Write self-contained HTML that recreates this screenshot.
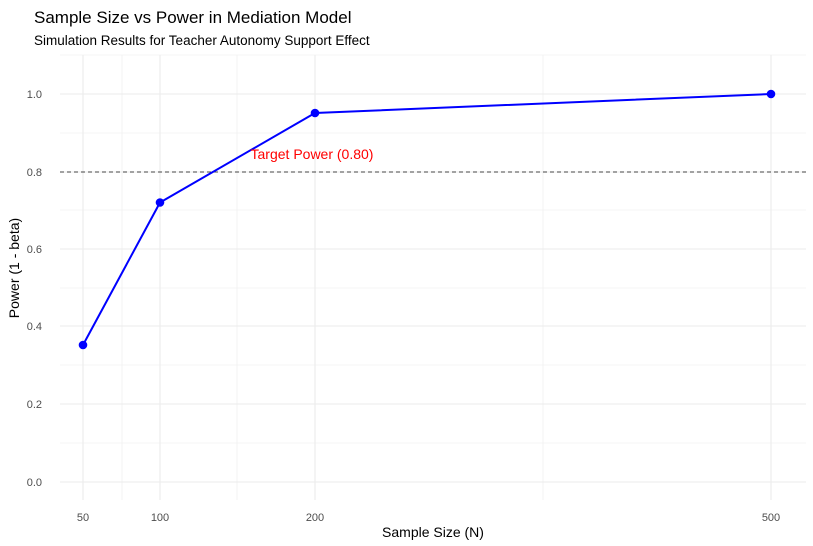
<!DOCTYPE html>
<html><head><meta charset="utf-8"><style>
body{margin:0;background:#fff;}
svg{display:block;font-family:"Liberation Sans",Arial,sans-serif;}
</style></head><body>
<svg width="813" height="546" viewBox="0 0 813 546" xmlns="http://www.w3.org/2000/svg">
<rect width="813" height="546" fill="#fff"/>
<g stroke="#ebebeb" stroke-width="0.6">
<line x1="60" x2="806" y1="443" y2="443"/>
<line x1="60" x2="806" y1="365" y2="365"/>
<line x1="60" x2="806" y1="288" y2="288"/>
<line x1="60" x2="806" y1="210" y2="210"/>
<line x1="60" x2="806" y1="133" y2="133"/>
<line x1="60" x2="806" y1="55" y2="55"/>
<line x1="122" x2="122" y1="55" y2="500"/>
<line x1="237" x2="237" y1="55" y2="500"/>
<line x1="543" x2="543" y1="55" y2="500"/>
</g>
<g stroke="#ebebeb" stroke-width="1.1">
<line x1="60" x2="806" y1="482" y2="482"/>
<line x1="60" x2="806" y1="404" y2="404"/>
<line x1="60" x2="806" y1="326" y2="326"/>
<line x1="60" x2="806" y1="249" y2="249"/>
<line x1="60" x2="806" y1="172" y2="172"/>
<line x1="60" x2="806" y1="94" y2="94"/>
<line x1="83" x2="83" y1="55" y2="500"/>
<line x1="160" x2="160" y1="55" y2="500"/>
<line x1="315" x2="315" y1="55" y2="500"/>
<line x1="771" x2="771" y1="55" y2="500"/>
</g>
<line x1="60" x2="806" y1="172" y2="172" stroke="#444" stroke-width="1" stroke-dasharray="4,3"/>
<polyline points="83,345 160,202.5 315,113 771,94" fill="none" stroke="#0000ff" stroke-width="2"/>
<g fill="#0000ff">
<circle cx="83" cy="345" r="4.3"/><circle cx="160" cy="202.5" r="4.3"/>
<circle cx="315" cy="113" r="4.3"/><circle cx="771" cy="94" r="4.3"/>
</g>
<text x="312" y="159" fill="#ff0000" font-size="14" text-anchor="middle">Target Power (0.80)</text>
<g fill="#4d4d4d" font-size="11" text-anchor="end">
<text x="42" y="486">0.0</text><text x="42" y="408">0.2</text><text x="42" y="330">0.4</text>
<text x="42" y="253">0.6</text><text x="42" y="176">0.8</text><text x="42" y="98">1.0</text>
</g>
<g fill="#4d4d4d" font-size="11" text-anchor="middle">
<text x="83" y="521">50</text><text x="160" y="521">100</text><text x="315" y="521">200</text><text x="771" y="521">500</text>
</g>
<text x="433" y="537" font-size="14" text-anchor="middle" fill="#000">Sample Size (N)</text>
<text transform="translate(19,268) rotate(-90)" font-size="14" text-anchor="middle" fill="#000">Power (1 - beta)</text>
<text x="34" y="23" font-size="17" fill="#000">Sample Size vs Power in Mediation Model</text>
<text x="34" y="45" font-size="13.5" fill="#000">Simulation Results for Teacher Autonomy Support Effect</text>
</svg>
</body></html>
